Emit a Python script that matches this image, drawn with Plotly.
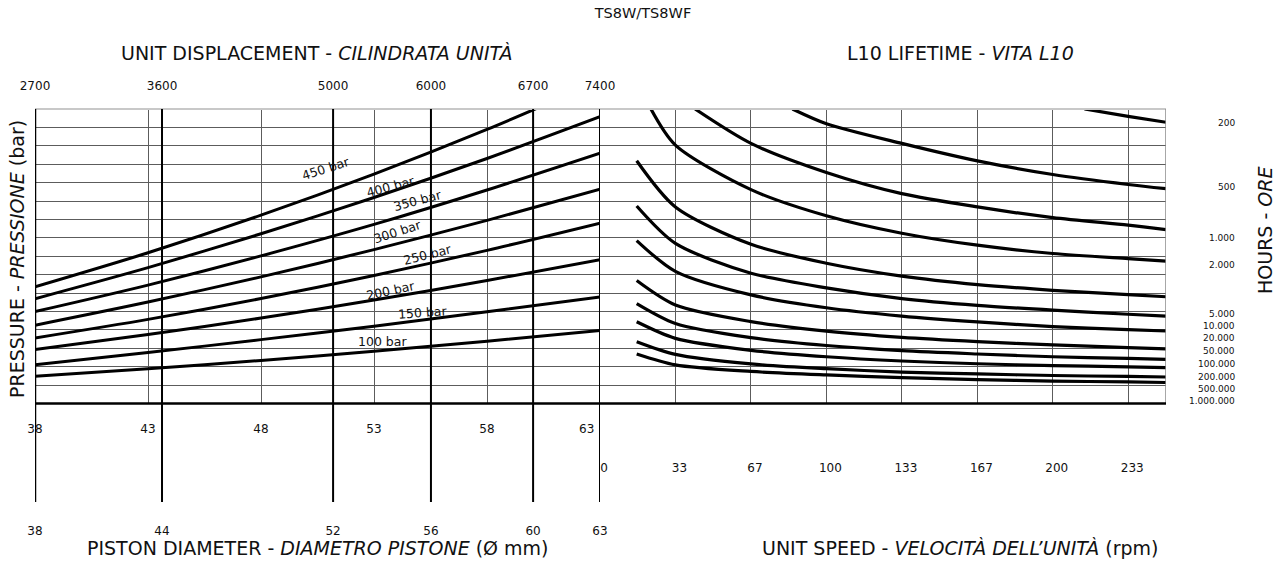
import plotly.graph_objects as go

W, H = 1286, 562
FONT = "DejaVu Sans"

# ---------------- data ----------------
# Left panel: linear piston-diameter scale (middle row of labels)
DIAM_MID_TICKS = [38, 43, 48, 53, 58, 63]
DIAM_MID_LABELS = ["38", "43", "48", "53", "58", "63\u00a0\u00a0\u00a0\u00a0\u00a0\u00a0\u00a0"]
# Reference lines (thick) on that scale, with their displacement / diameter labels
REF_POS = [38, 43.62, 51.19, 55.52, 60.04, 63]
DISP_LABELS = ["2700", "3600", "5000", "6000", "6700", "7400"]
DIAM_LABELS = ["38", "44", "52", "56", "60", "63"]

# Pressure lines (y in grid units, 0..16)
DIAM_X = [38, 43, 48, 53, 58, 63]
P100 = [1.48, 1.89, 2.34, 2.84, 3.38, 3.97]
P150 = [2.11, 2.77, 3.47, 4.20, 4.98, 5.79]
P200 = [2.93, 3.75, 4.64, 5.62, 6.68, 7.81]
P250 = [3.56, 4.57, 5.70, 6.95, 8.32, 9.80]
P300 = [4.25, 5.51, 6.88, 8.36, 9.95, 11.64]
P350 = [4.99, 6.43, 8.02, 9.73, 11.60, 13.60]
P400 = [5.69, 7.38, 9.22, 11.19, 13.31, 15.58]
P450 = [6.34, 8.19, 10.23, 12.46, 14.89, 17.52]
PRESSURE_SERIES = [P100, P150, P200, P250, P300, P350, P400, P450]
PRESSURE_LABELS = ["100 bar", "150 bar", "200 bar", "250 bar",
                   "300 bar", "350 bar", "400 bar", "450 bar"]

# Right panel: unit speed (rpm)
RPM_TICKS = [0, 33.33, 66.67, 100, 133.33, 166.67, 200, 233.33]
RPM_LABELS = ["0", "33", "67", "100", "133", "167", "200", "233"]

RPM_FULL = [16.2, 33.3, 66.7, 100, 133.3, 166.7, 200, 233.3, 250]
H200_X = [214, 233.3, 250]
H200_Y = [16.0, 15.6, 15.28]
H500_X = [85, 100, 133.3, 166.7, 200, 233.3, 250]
H500_Y = [16.0, 15.2, 14.13, 13.18, 12.44, 11.9, 11.67]
H1K_X = [42, 66.7, 100, 133.3, 166.7, 200, 233.3, 250]
H1K_Y = [16.0, 14.13, 12.55, 11.4, 10.68, 10.1, 9.69, 9.45]
H2K_X = [22.5, 33.3, 66.7, 100, 133.3, 166.7, 200, 233.3, 250]
H2K_Y = [16.0, 14.04, 11.62, 10.2, 9.25, 8.6, 8.15, 7.87, 7.74]
H5K_Y = [13.19, 10.68, 8.65, 7.62, 6.92, 6.46, 6.15, 5.91, 5.8]
H10K_Y = [10.73, 8.7, 7.08, 6.28, 5.7, 5.33, 5.07, 4.85, 4.75]
H20K_Y = [8.85, 7.18, 5.9, 5.2, 4.75, 4.43, 4.18, 4.01, 3.94]
H50K_Y = [6.68, 5.35, 4.45, 3.93, 3.59, 3.36, 3.18, 3.04, 2.97]
H100K_Y = [5.43, 4.35, 3.58, 3.15, 2.87, 2.69, 2.54, 2.45, 2.4]
H200K_Y = [4.44, 3.54, 2.89, 2.54, 2.31, 2.16, 2.06, 1.99, 1.95]
H500K_Y = [3.36, 2.67, 2.15, 1.89, 1.71, 1.61, 1.52, 1.47, 1.44]
H1M_Y = [2.69, 2.1, 1.74, 1.55, 1.41, 1.3, 1.22, 1.17, 1.14]

LIFE_CURVES = [
    (H200_X, H200_Y), (H500_X, H500_Y), (H1K_X, H1K_Y), (H2K_X, H2K_Y),
    (RPM_FULL, H5K_Y), (RPM_FULL, H10K_Y), (RPM_FULL, H20K_Y), (RPM_FULL, H50K_Y),
    (RPM_FULL, H100K_Y), (RPM_FULL, H200K_Y), (RPM_FULL, H500K_Y), (RPM_FULL, H1M_Y),
]
HOURS_LABELS = ["200", "500", "1.000", "2.000", "5.000", "10.000", "20.000",
                "50.000", "100.000", "200.000", "500.000", "1.000.000"]
HOURS_LABEL_Y = [15.24, 11.76, 8.99, 7.52, 4.86, 4.21, 3.56, 2.85, 2.15, 1.44, 0.79, 0.14]

GRID_ROWS = 16

# ---------------- layout geometry ----------------
L_DOM = [35 / W, 600 / W]
R_DOM = [600 / W, 1166 / W]
Y_DOM = [1 - 403.5 / H, 1 - 109 / H]
EXT_BOTTOM = (H - 502) / H

# curve-label placement (x, y in data units, angle)
LABEL_PLACE = [(53.39, 3.36, 0), (55.14, 4.95, -4), (53.74, 6.13, -12), (55.38, 8.07, -14),
               (54.05, 9.33, -18), (54.92, 11.02, -15), (53.74, 11.81, -15), (50.85, 12.78, -18)]

fig = go.Figure()

for ys, name in zip(PRESSURE_SERIES, PRESSURE_LABELS):
    fig.add_trace(go.Scatter(x=DIAM_X, y=ys, mode="lines", name=name,
                             line=dict(color="black", width=3, shape="spline", smoothing=0.8),
                             xaxis="x", yaxis="y", showlegend=False, hoverinfo="skip"))

for (xs, ys), name in zip(LIFE_CURVES, HOURS_LABELS):
    fig.add_trace(go.Scatter(x=xs, y=ys, mode="lines", name=name + " h",
                             line=dict(color="black", width=3.2, shape="spline", smoothing=0.8),
                             xaxis="x2", yaxis="y2", showlegend=False, hoverinfo="skip"))

# register the overlay axes
fig.add_trace(go.Scatter(x=REF_POS, y=[None] * len(REF_POS), xaxis="x3", yaxis="y",
                         mode="lines", showlegend=False, hoverinfo="skip"))
fig.add_trace(go.Scatter(x=REF_POS, y=[None] * len(REF_POS), xaxis="x4", yaxis="y",
                         mode="lines", showlegend=False, hoverinfo="skip"))

GRID_COLOR = "#5c5c5c"
tickfont = dict(family=FONT, size=12, color="#111")

fig.update_layout(
    width=W, height=H, margin=dict(l=0, r=0, t=0, b=0, autoexpand=False),
    paper_bgcolor="white", plot_bgcolor="white",
    font=dict(family=FONT, color="#111"),
    title=dict(text="TS8W/TS8WF", x=0.5, xanchor="center", y=1 - 13 / H, yanchor="middle",
               font=dict(family=FONT, size=14.5, color="#111")),
    xaxis=dict(domain=L_DOM, anchor="y", range=[38, 63], tickvals=DIAM_MID_TICKS,
               ticktext=DIAM_MID_LABELS, ticks="", showgrid=True,
               gridcolor=GRID_COLOR, gridwidth=1.2, zeroline=False, showline=False,
               ticklabelstandoff=16, tickfont=tickfont),
    xaxis3=dict(overlaying="x", side="top", anchor="y", range=[38, 63], tickvals=REF_POS,
                ticktext=DISP_LABELS, ticks="", showgrid=False, zeroline=False,
                showline=False, ticklabelstandoff=16, tickfont=tickfont),
    xaxis4=dict(overlaying="x", side="bottom", anchor="free", position=EXT_BOTTOM,
                range=[38, 63], tickvals=REF_POS, ticktext=DIAM_LABELS, ticks="",
                showgrid=False, zeroline=False, showline=False, ticklabelstandoff=20,
                tickfont=tickfont),
    xaxis2=dict(domain=R_DOM, anchor="y2", range=[0, 250], tickvals=RPM_TICKS,
                ticktext=RPM_LABELS, ticks="", showgrid=True, gridcolor=GRID_COLOR,
                gridwidth=1.2, zeroline=False, showline=False, ticklabelstandoff=55,
                ticklabelshift=4, tickfont=tickfont),
    yaxis=dict(domain=Y_DOM, anchor="x", range=[0, GRID_ROWS],
               tickvals=list(range(1, GRID_ROWS)), showticklabels=False, ticks="",
               showgrid=True, gridcolor=GRID_COLOR, gridwidth=1.2, zeroline=False),
    yaxis2=dict(domain=Y_DOM, anchor="x2", range=[0, GRID_ROWS],
                tickvals=list(range(1, GRID_ROWS)), showticklabels=False, ticks="",
                showgrid=True, gridcolor=GRID_COLOR, gridwidth=1.2, zeroline=False),
)

shapes = [
    dict(type="line", xref="paper", yref="paper", x0=L_DOM[0], x1=R_DOM[1],
         y0=Y_DOM[1], y1=Y_DOM[1], line=dict(color="#c8c8c8", width=2)),
    dict(type="line", xref="x2", yref="paper", x0=250, x1=250,
         y0=Y_DOM[0], y1=Y_DOM[1], line=dict(color="#8a8a8a", width=1.5)),
    dict(type="line", xref="paper", yref="paper", x0=L_DOM[0], x1=R_DOM[1],
         y0=Y_DOM[0], y1=Y_DOM[0], line=dict(color="black", width=2.5)),
]
for i, p in enumerate(REF_POS):
    shapes.append(dict(type="line", xref="x", yref="paper", x0=p, x1=p,
                       y0=EXT_BOTTOM, y1=Y_DOM[1],
                       line=dict(color="black", width=2.5 if i == 0 else 2)))
fig.update_layout(shapes=shapes)

ann = []
for (x, y, ang), name in zip(LABEL_PLACE, PRESSURE_LABELS):
    ann.append(dict(x=x, y=y, xref="x", yref="y", text=name, showarrow=False,
                    xanchor="center", yanchor="middle",
                    textangle=ang, font=dict(family=FONT, size=12.5, color="#111")))
for lab, y in zip(HOURS_LABELS, HOURS_LABEL_Y):
    ann.append(dict(x=1237 / W, y=y, xref="paper", yref="y2", text=lab, showarrow=False,
                    xanchor="right", yanchor="middle", font=dict(family=FONT, size=9, color="#111")))

TOP_FONT = dict(family=FONT, size=19, color="#111")
BOT_FONT = dict(family=FONT, size=19, color="#111")
VERT_FONT = dict(family=FONT, size=19, color="#111")
C = dict(xref="paper", yref="paper", showarrow=False, xanchor="center", yanchor="middle")
ann += [
    dict(x=316 / W, y=1 - 53 / H, text="UNIT DISPLACEMENT - <i>CILINDRATA UNITÀ</i>", font=TOP_FONT, **C),
    dict(x=960 / W, y=1 - 53 / H, text="L10 LIFETIME - <i>VITA L10</i>", font=TOP_FONT, **C),
    dict(x=318 / W, y=1 - 548 / H, text="PISTON DIAMETER - <i>DIAMETRO PISTONE</i> (Ø mm)", font=BOT_FONT, **C),
    dict(x=960 / W, y=1 - 548 / H, text="UNIT SPEED - <i>VELOCITÀ DELL’UNITÀ</i> (rpm)", font=BOT_FONT, **C),
    dict(x=17 / W, y=1 - 259 / H, textangle=-90, text="PRESSURE - <i>PRESSIONE</i> (bar)", font=VERT_FONT, **C),
    dict(x=1265 / W, y=1 - 230 / H, textangle=-90, text="HOURS - <i>ORE</i>", font=VERT_FONT, **C),
]
fig.update_layout(annotations=ann)

fig.write_html("out.html")
